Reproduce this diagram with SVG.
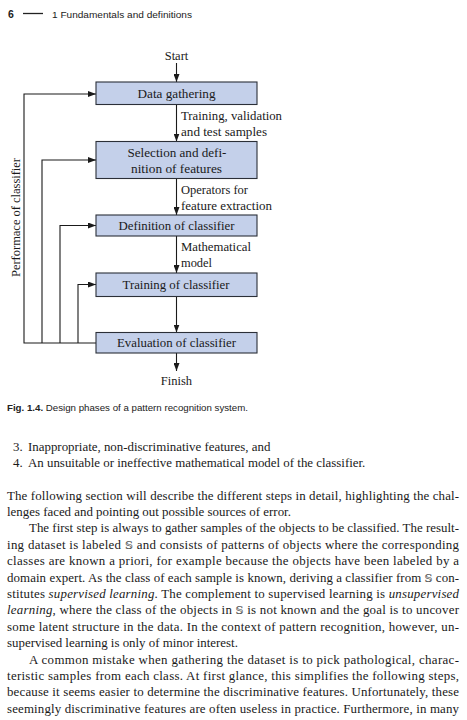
<svg xmlns="http://www.w3.org/2000/svg" width="467" height="720" viewBox="0 0 467 720">
<style>
.hd{font-family:"Liberation Sans","Open Sans",sans-serif;font-size:9.5px;fill:#222}
.lb{font-family:"Liberation Serif","DejaVu Serif",serif;font-size:12.5px;fill:#1a1a1a}
.bx{fill:#c4d0ea;stroke:#2b2f38;stroke-width:1.1}
.ln{fill:none;stroke:#1a1a1a;stroke-width:1.1}
.cp{font-family:"Liberation Sans","Open Sans",sans-serif;font-size:9px;fill:#222}
.tx{font-family:"Liberation Serif","DejaVu Serif",serif;font-size:12.9px;fill:#1a1a1a}
.it{font-style:italic}
.ds{font-family:"DejaVu Serif","DejaVu Sans",serif;font-size:11px;fill:#555}
</style>
<defs>
<marker id="ah" viewBox="0 0 8 6" refX="8" refY="3" markerWidth="8" markerHeight="6" markerUnits="userSpaceOnUse" orient="auto">
<path d="M0,0 L8,3 L0,6 Z" fill="#1a1a1a"/>
</marker>
</defs>
<rect width="467" height="720" fill="#fff"/>
<g id="header">
<text x="8" y="17.5" class="hd" style="font-weight:bold;font-size:10.5px">6</text>
<line x1="23" y1="13.5" x2="43" y2="13.5" stroke="#222" stroke-width="1.3"/>
<text x="52" y="17.5" class="hd" textLength="140" lengthAdjust="spacingAndGlyphs">1 Fundamentals and definitions</text>
</g>
<g id="connectors">
<line class="ln" x1="176.5" y1="63" x2="176.5" y2="82" marker-end="url(#ah)"/>
<line class="ln" x1="176.5" y1="104.5" x2="176.5" y2="141.5" marker-end="url(#ah)"/>
<line class="ln" x1="176.5" y1="178.5" x2="176.5" y2="215" marker-end="url(#ah)"/>
<line class="ln" x1="176.5" y1="236" x2="176.5" y2="273" marker-end="url(#ah)"/>
<line class="ln" x1="176.5" y1="296.5" x2="176.5" y2="332.5" marker-end="url(#ah)"/>
<line class="ln" x1="176.5" y1="353" x2="176.5" y2="371" marker-end="url(#ah)"/>
<polyline class="ln" points="96,343 24,343 24,94 96,94" marker-end="url(#ah)"/>
<polyline class="ln" points="42,343 42,160 96,160" marker-end="url(#ah)"/>
<polyline class="ln" points="60,343 60,225.5 96,225.5" marker-end="url(#ah)"/>
<polyline class="ln" points="78,343 78,284.5 96,284.5" marker-end="url(#ah)"/>
<text class="lb" x="181" y="119.5" textLength="101" lengthAdjust="spacingAndGlyphs">Training, validation</text>
<text class="lb" x="181" y="135.5" textLength="86" lengthAdjust="spacingAndGlyphs">and test samples</text>
<text class="lb" x="181" y="193.5" textLength="67" lengthAdjust="spacingAndGlyphs">Operators for</text>
<text class="lb" x="181" y="209.5" textLength="91" lengthAdjust="spacingAndGlyphs">feature extraction</text>
<text class="lb" x="181" y="251" textLength="70" lengthAdjust="spacingAndGlyphs">Mathematical</text>
<text class="lb" x="181" y="266.5" textLength="31" lengthAdjust="spacingAndGlyphs">model</text>
<text class="lb" transform="translate(19.5,217.5) rotate(-90)" text-anchor="middle" textLength="119" lengthAdjust="spacingAndGlyphs">Performace of classifier</text>
</g>
<g id="start"><text class="lb" x="176.5" y="59.5" text-anchor="middle">Start</text></g>
<g id="data-gathering">
<rect class="bx" x="96" y="82" width="161" height="22.5"/>
<text class="lb" x="176.5" y="97.5" text-anchor="middle" textLength="78" lengthAdjust="spacingAndGlyphs">Data gathering</text>
</g>
<g id="selection">
<rect class="bx" x="96" y="141.5" width="161" height="37"/>
<text class="lb" x="177" y="156.5" text-anchor="middle" textLength="99" lengthAdjust="spacingAndGlyphs">Selection and defi-</text>
<text class="lb" x="176.5" y="172.5" text-anchor="middle" textLength="91" lengthAdjust="spacingAndGlyphs">nition of features</text>
</g>
<g id="definition">
<rect class="bx" x="96" y="215" width="161" height="21"/>
<text class="lb" x="176.5" y="230" text-anchor="middle" textLength="116" lengthAdjust="spacingAndGlyphs">Definition of classifier</text>
</g>
<g id="training">
<rect class="bx" x="96" y="273" width="161" height="23.5"/>
<text class="lb" x="176" y="288.5" text-anchor="middle" textLength="107" lengthAdjust="spacingAndGlyphs">Training of classifier</text>
</g>
<g id="evaluation">
<rect class="bx" x="96" y="332.5" width="161" height="20.5"/>
<text class="lb" x="176.5" y="347" text-anchor="middle" textLength="119" lengthAdjust="spacingAndGlyphs">Evaluation of classifier</text>
</g>
<g id="finish"><text class="lb" x="176.5" y="384.5" text-anchor="middle">Finish</text></g>
<g id="caption">
<text class="cp" x="7" y="411" textLength="241" lengthAdjust="spacingAndGlyphs"><tspan style="font-weight:bold">Fig. 1.4.</tspan> Design phases of a pattern recognition system.</text>
</g>
<g id="list">
<text class="tx" x="13" y="450.5">3.</text>
<text class="tx" x="28" y="450.5">Inappropriate, non-discriminative features, and</text>
<text class="tx" x="13" y="467">4.</text>
<text class="tx" x="28" y="467">An unsuitable or ineffective mathematical model of the classifier.</text>
</g>
<g id="body">
<text class="tx" x="7" y="499.5" textLength="452">The following section will describe the different steps in detail, highlighting the chal-</text>
<text class="tx" x="7" y="515.9">lenges faced and pointing out possible sources of error.</text>
<text class="tx" x="29" y="532.3" textLength="430">The first step is always to gather samples of the objects to be classified. The result-</text>
<text class="tx" x="7" y="548.7" textLength="452">ing dataset is labeled <tspan class="ds">𝕊</tspan> and consists of patterns of objects where the corresponding</text>
<text class="tx" x="7" y="565.1" textLength="452">classes are known a priori, for example because the objects have been labeled by a</text>
<text class="tx" x="7" y="581.5" textLength="452">domain expert. As the class of each sample is known, deriving a classifier from <tspan class="ds">𝕊</tspan> con-</text>
<text class="tx" x="7" y="597.9" textLength="452">stitutes <tspan class="it">supervised learning</tspan>. The complement to supervised learning is <tspan class="it">unsupervised</tspan></text>
<text class="tx" x="7" y="614.3" textLength="452"><tspan class="it">learning</tspan>, where the class of the objects in <tspan class="ds">𝕊</tspan> is not known and the goal is to uncover</text>
<text class="tx" x="7" y="630.7" textLength="452">some latent structure in the data. In the context of pattern recognition, however, un-</text>
<text class="tx" x="7" y="647.1">supervised learning is only of minor interest.</text>
<text class="tx" x="29" y="663.5" textLength="430">A common mistake when gathering the dataset is to pick pathological, charac-</text>
<text class="tx" x="7" y="679.9" textLength="452">teristic samples from each class. At first glance, this simplifies the following steps,</text>
<text class="tx" x="7" y="696.3" textLength="452">because it seems easier to determine the discriminative features. Unfortunately, these</text>
<text class="tx" x="7" y="712.7" textLength="452">seemingly discriminative features are often useless in practice. Furthermore, in many</text>
</g>
</svg>
